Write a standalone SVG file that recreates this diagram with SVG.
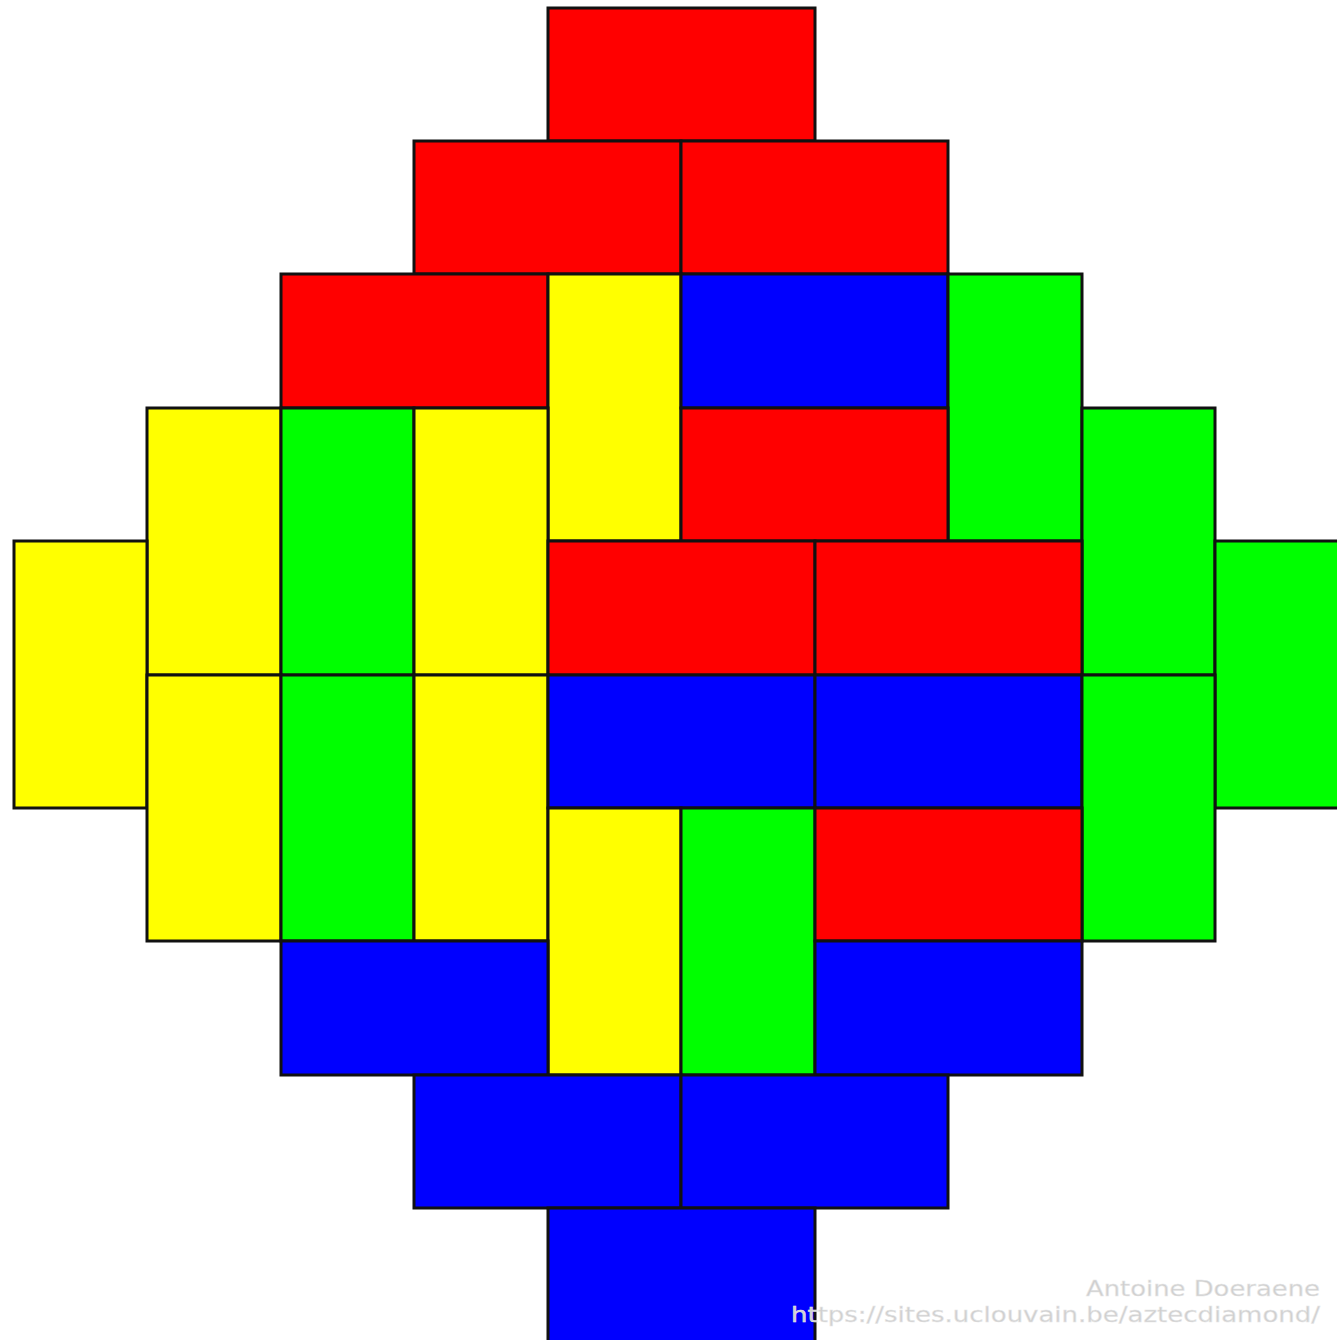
<svg xmlns="http://www.w3.org/2000/svg" width="1337" height="1340" viewBox="0 0 1337 1340">
<style>
rect{stroke:#111;stroke-width:3}
.r{fill:#ff0000}.b{fill:#0000ff}.g{fill:#00ff00}.y{fill:#ffff00}
.t{font-family:"DejaVu Sans","Liberation Sans",sans-serif;font-size:22px;fill:#cfcfcf;stroke:#e8e8e8;stroke-width:0.5}
</style>
<rect x="0" y="0" width="1337" height="1340" fill="#fff" style="stroke:none"/>
<g id="tiles">
<g id="t1"><rect class="r" x="548" y="8" width="267" height="133"/></g>
<g id="t2"><rect class="r" x="414" y="141" width="267" height="133"/></g>
<g id="t3"><rect class="r" x="681" y="141" width="267" height="133"/></g>
<g id="t4"><rect class="r" x="281" y="274" width="267" height="134"/></g>
<g id="t5"><rect class="y" x="548" y="274" width="133" height="267"/></g>
<g id="t6"><rect class="b" x="681" y="274" width="267" height="134"/></g>
<g id="t7"><rect class="g" x="948" y="274" width="134" height="267"/></g>
<g id="t8"><rect class="y" x="147" y="408" width="134" height="267"/></g>
<g id="t9"><rect class="g" x="281" y="408" width="133" height="267"/></g>
<g id="t10"><rect class="y" x="414" y="408" width="134" height="267"/></g>
<g id="t11"><rect class="r" x="681" y="408" width="267" height="133"/></g>
<g id="t12"><rect class="g" x="1082" y="408" width="133" height="267"/></g>
<g id="t13"><rect class="y" x="14" y="541" width="133" height="267"/></g>
<g id="t14"><rect class="r" x="548" y="541" width="267" height="134"/></g>
<g id="t15"><rect class="r" x="815" y="541" width="267" height="134"/></g>
<g id="t16"><rect class="g" x="1215" y="541" width="134" height="267"/></g>
<g id="t17"><rect class="y" x="147" y="675" width="134" height="266"/></g>
<g id="t18"><rect class="g" x="281" y="675" width="133" height="266"/></g>
<g id="t19"><rect class="y" x="414" y="675" width="134" height="266"/></g>
<g id="t20"><rect class="b" x="548" y="675" width="267" height="133"/></g>
<g id="t21"><rect class="b" x="815" y="675" width="267" height="133"/></g>
<g id="t22"><rect class="g" x="1082" y="675" width="133" height="266"/></g>
<g id="t23"><rect class="y" x="548" y="808" width="133" height="267"/></g>
<g id="t24"><rect class="g" x="681" y="808" width="134" height="267"/></g>
<g id="t25"><rect class="r" x="815" y="808" width="267" height="133"/></g>
<g id="t26"><rect class="b" x="281" y="941" width="267" height="134"/></g>
<g id="t27"><rect class="b" x="815" y="941" width="267" height="134"/></g>
<g id="t28"><rect class="b" x="414" y="1075" width="267" height="133"/></g>
<g id="t29"><rect class="b" x="681" y="1075" width="267" height="133"/></g>
<g id="t30"><rect class="b" x="548" y="1208" width="267" height="134"/></g>
</g>
<g id="watermark">
<text class="t" x="1086" y="1296" textLength="234" lengthAdjust="spacingAndGlyphs">Antoine Doeraene</text>
<text class="t" x="791" y="1322" textLength="529" lengthAdjust="spacingAndGlyphs">https://sites.uclouvain.be/aztecdiamond/</text>
</g>
</svg>
